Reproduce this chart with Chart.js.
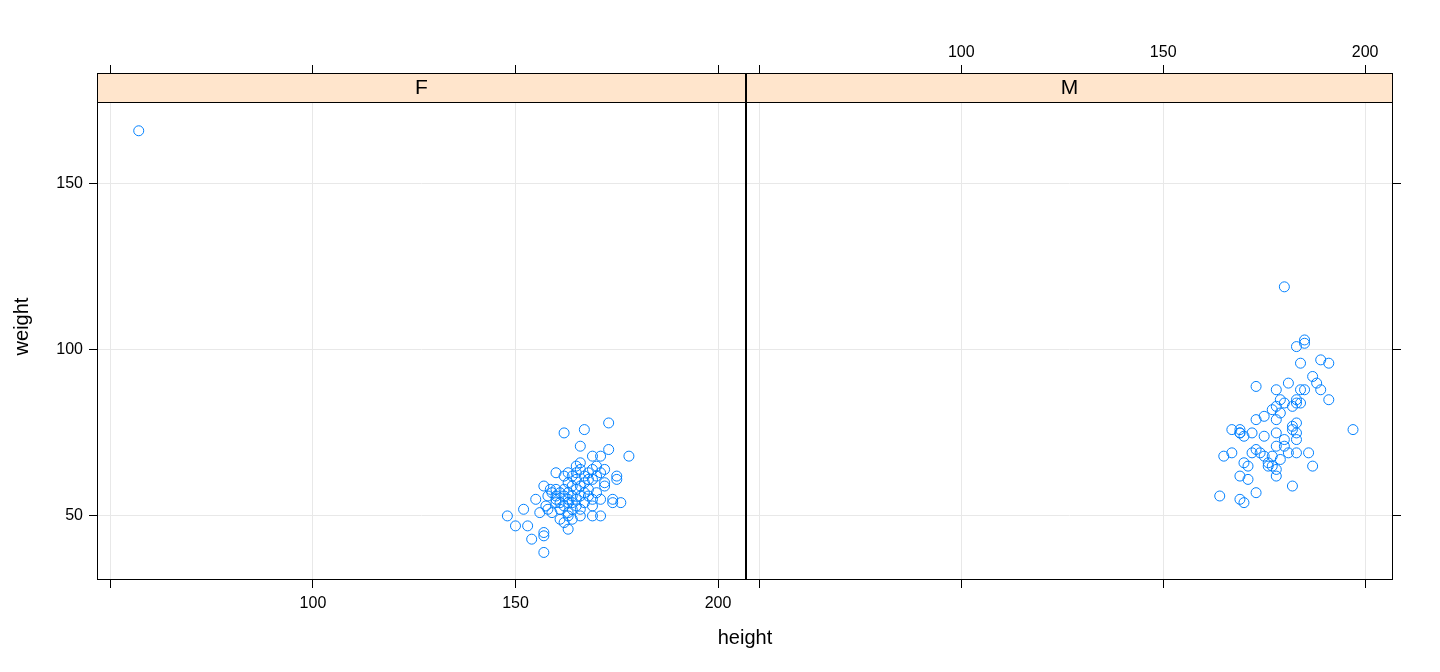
<!DOCTYPE html>
<html>
<head>
<script src="https://cdn.jsdelivr.net/npm/chart.js@4"></script>
<style>
body { margin: 0; background: #fff; font-family: "Liberation Sans", Arial, sans-serif; }
#wrap { position: relative; width: 1440px; height: 672px; overflow: hidden; }
#cf { position: absolute; left: 0; top: 0; }
#cm { position: absolute; left: 740px; top: 0; }
#xt { position: absolute; left: 0; width: 1490px; top: 626px; text-align: center; font-size: 20px; }
</style>
</head>
<body>
<div id="wrap">
  <div id="cf" style="width:752px;height:672px"><canvas id="f"></canvas></div>
  <div id="cm" style="width:700px;height:672px"><canvas id="m"></canvas></div>
  <div id="xt">height</div>
</div>
<script>
// data
const panels = ["F", "M"];
const fHeight = [57,148,150,153,154,152,155,156,157,157,157,157,157.5,158.6,160,162,167,173,178,173,166,160,161,162,163,163,166,169,171,169,171,174,176,174,175,175,172,172,169,171,169,
  160,161,162,162,163,163,164,164,165,165,166,163,164,165,166,166,167,168,168,169,170,170,167,168,165,164,162,161,160,159,158,163,164,166,169,170,172,168,171,160,162,165,167,163,166,164,165,161,167,158,159,163];
const fWeight = [166,50,47,47,43,52,55,51,45,44,39,59,53,58,63,75,76,78,68,70,71,55,49,48,46,50,50,50,50,53,55,55,54,54,61,62,59,64,68,68,61,
  56,54,56,53,55,57,54,52,55,58,56,60,62,63,64,66,62,61,63,64,62,65,57,58,61,59,58,57,54,51,52,51,49,52,55,57,60,56,63,58,62,65,60,63,59,56,53,52,54,56,57,54];
const mHeight = [180,185,185,183,184,189,191,187,188,189,191,173,178,181,185,184,184,183,179,197,167,169,170,169,169,172,173,175,177,178,178,179,180,182,183,182,183,183,175,178,180,165,167,170,171,
  172,173,174,175,176,176,177,178,178,177,179,178,180,181,183,186,187,169,171,164,169,170,173,182,183,182];
const mWeight = [119,103,102,101,96,97,96,92,90,88,85,89,88,90,88,88,84,85,85,76,76,75,74,75,76,75,79,80,82,79,83,81,84,83,84,77,78,73,74,75,73,68,69,66,65,
  69,70,69,68,66,65,65,64,62,68,67,71,71,69,69,69,65,62,61,56,55,54,57,59,75,76];
const xTicks = [50, 100, 150, 200];
const yTicks = [50, 100, 150];

const FONT = { family: "Liberation Sans, Arial, sans-serif", size: 16 };
const GRID = "#e8e8e8";

function pts(xs, ys) { return xs.map((x, i) => ({ x: x, y: ys[i] })); }

const stripPlugin = {
  id: "strip",
  afterDraw(chart) {
    const a = chart.chartArea, c = chart.ctx;
    c.save();
    c.fillStyle = "#ffe5cc";
    c.fillRect(a.left, a.top, a.right - a.left, 29);
    c.strokeStyle = "#000";
    c.lineWidth = 1;
    c.strokeRect(a.left + 0.5, a.top + 0.5, a.right - a.left - 1, 29);
    c.strokeRect(a.left + 0.5, a.top + 0.5, a.right - a.left - 1, a.bottom - a.top - 1);
    c.fillStyle = "#000";
    c.font = "21px Liberation Sans, Arial, sans-serif";
    c.textAlign = "center";
    c.textBaseline = "middle";
    c.fillText(chart.options.plugins.stripLabel, (a.left + a.right) / 2, a.top + 15);
    c.restore();
  }
};

function xAxis(pos, labels, size, onArea) {
  return {
    type: "linear", position: pos, min: 46.7, max: 206.9,
    afterBuildTicks: s => { s.ticks = xTicks.map(v => ({ value: v })); },
    afterFit: s => { s.height = size; },
    ticks: { color: "#000", font: FONT, padding: pos === "top" ? 3 : 6,
      callback: v => (labels && v !== 50) ? v : "" },
    grid: { color: GRID, tickColor: "#000", tickLength: 8, drawOnChartArea: onArea },
    border: { display: false }
  };
}

function yAxis(pos, labels, size, title) {
  return {
    type: "linear", position: pos, min: 30.7, max: 183.4,
    afterBuildTicks: s => { s.ticks = yTicks.map(v => ({ value: v })); },
    afterFit: s => { s.width = size; },
    ticks: { color: "#000", font: FONT, padding: 6, callback: v => labels ? v : "" },
    grid: { color: GRID, tickColor: "#000", tickLength: 8 },
    border: { display: false },
    title: { display: !!title, text: title, color: "#000", padding: { top: 10, bottom: 4 },
      font: { family: FONT.family, size: 20 } }
  };
}

function makeChart(id, label, data, leftY) {
  const scales = leftY
    ? { x: xAxis("bottom", true, 92, true), x2: xAxis("top", false, 73, false), y: yAxis("left", true, 97, "weight") }
    : { x: xAxis("bottom", false, 92, true), x2: xAxis("top", true, 73, false), y: yAxis("right", false, 47, "") };
  new Chart(document.getElementById(id), {
    type: "scatter",
    data: { datasets: [{ data: data, xAxisID: "x", yAxisID: "y",
      pointRadius: 5, pointBorderWidth: 1, borderColor: "#0080ff",
      backgroundColor: "rgba(0,0,0,0)", pointHoverRadius: 5 }] },
    options: {
      responsive: true, maintainAspectRatio: false, animation: false,
      layout: { padding: { right: leftY ? 1 : 0, left: 0, top: 0, bottom: 0 } },
      plugins: { legend: { display: false }, tooltip: { enabled: false }, stripLabel: label },
      scales: scales
    },
    plugins: [stripPlugin]
  });
}

makeChart("f", panels[0], pts(fHeight, fWeight), true);
makeChart("m", panels[1], pts(mHeight, mWeight), false);
</script>
</body>
</html>
